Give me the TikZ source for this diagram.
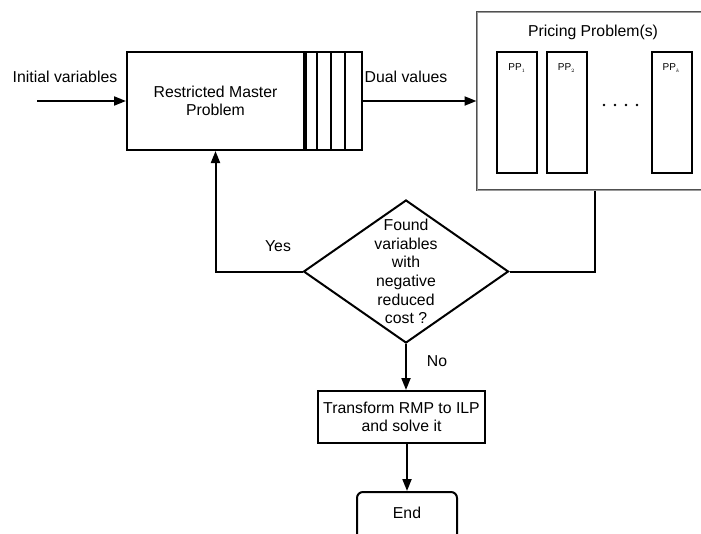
\documentclass[tikz,border=0pt]{standalone}
\usepackage{fontspec}
\setmainfont{Liberation Sans}
\usetikzlibrary{arrows.meta,positioning,shapes.geometric}
\definecolor{flowInk}{HTML}{000000}
\definecolor{flowFrame}{HTML}{505050}
\definecolor{flowFrameTwo}{HTML}{9A9A9A}

\begin{document}
\begin{tikzpicture}[x=1pt,y=-1pt,>={Triangle[length=12pt,width=9pt]},line join=miter]
\clip (0,0) rectangle (701,533);
\path[fill=white] (0,0) rectangle (701,533);
\tikzset{txt/.style={font=\fontsize{15.8}{18.7}\selectfont,inner sep=0pt,align=center},
  box/.style={draw=flowInk,line width=2pt,fill=white,inner sep=0pt,txt},
  flow/.style={draw=flowInk,line width=2pt},
  ppbox/.style={draw=flowInk,line width=2pt,minimum width=40pt,minimum height=121pt},
  pplbl/.style={font=\fontsize{10}{12}\selectfont,inner sep=0pt},
  decision/.style={diamond,draw=flowInk,line width=2pt,inner sep=0pt,minimum width=205pt,minimum height=143pt}}
% master problem with its column queue
\node[box,minimum width=177pt,minimum height=98pt] (rmp) at (215.5,101) {Restricted Master\\Problem};
\node[box,minimum width=56pt,minimum height=98pt,anchor=west] (queue) at (rmp.east) {};
\foreach \qx in {317,331,345} \draw[flow] (\qx,52) -- (\qx,150);
\coordinate (start) at (37,101);
\node[txt] (initlbl) at (65,77) {Initial variables};
\draw[flow,->] (start) -- (rmp.west);
% pricing problems
\node[draw=flowFrame,double=flowFrameTwo,double distance=0.8pt,line width=1pt,minimum width=235pt,minimum height=178pt] (pricing) at (594.5,101) {};
\node[txt] (pricinglbl) at (593,32) {Pricing Problem(s)};
\node[ppbox] (pp1) at (517,112.5) {};
\node[ppbox] (pp2) at (566.5,112.5) {};
\node[ppbox] (ppk) at (671.5,112.5) {};
\node[pplbl] (pp1lbl) at (517,68) {PP$_{\scriptscriptstyle 1}$};
\node[pplbl] (pp2lbl) at (566.5,68) {PP$_{\scriptscriptstyle 2}$};
\node[pplbl] (ppklbl) at (671.5,68) {PP$_{\scriptscriptstyle k}$};
\foreach \dx in {604,615,626,637} \fill[flowInk] (\dx,105) circle (1.3);
\node[txt] (duallbl) at (406,77) {Dual values};
\draw[flow,->] (queue.east) -- (pricing.west);
% test for new columns
\node[decision] (dec) at (406,271.5) {};
\node[txt] (dectxt) at (dec.center) {Found\\variables\\with\\negative\\reduced\\cost ?};
\draw[flow,->] (dec.west) -| (rmp.south);
\node[txt] (yeslbl) at (278,246) {Yes};
\draw[flow] (dec.east) -| (pricing.south);
% final ILP
\node[box,minimum width=167pt,minimum height=52pt] (ilp) at (401.5,417) {Transform RMP to ILP\\and solve it};
\draw[flow,->] (dec.south) -- (dec.south |- ilp.north);
\node[txt] (nolbl) at (437,361) {No};
\node[box,rounded corners=6pt,minimum width=100pt,minimum height=48pt] (stop) at (407,516) {};
\node[txt] (stoptxt) at (407,513) {End};
\draw[flow,->] (stop.north |- ilp.south) -- (stop.north);
\end{tikzpicture}
\end{document}
